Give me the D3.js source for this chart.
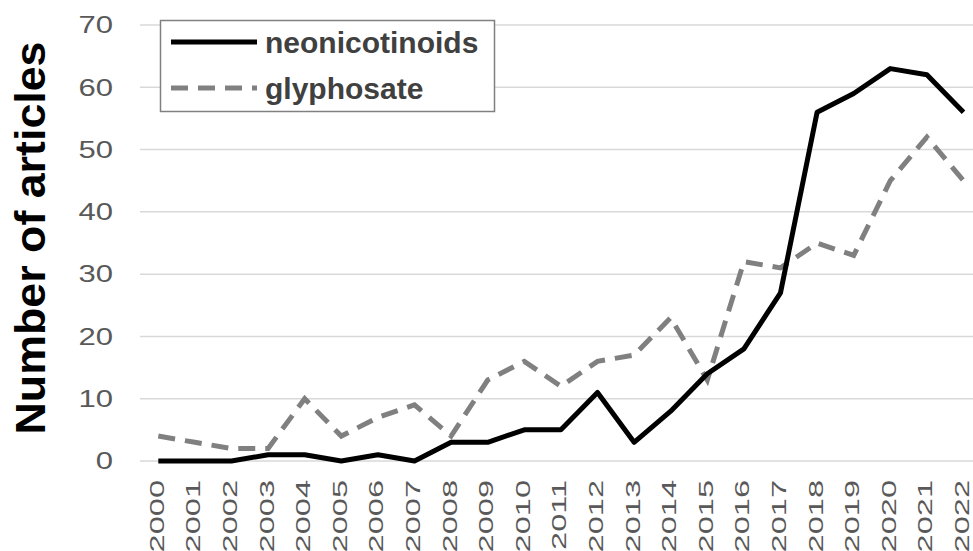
<!DOCTYPE html>
<html>
<head>
<meta charset="utf-8">
<script src="https://cdn.jsdelivr.net/npm/d3@7"></script>
<style>
	body { margin: 0; background: #fff; }
	svg { display: block; font-family: "Liberation Sans", Arial, sans-serif; }
</style>
</head>
<body>
<svg id="chart" width="973" height="551"></svg>
<script>
// Data
var years = ["2000", "2001", "2002", "2003", "2004", "2005", "2006", "2007", "2008", "2009", "2010",
	"2011", "2012", "2013", "2014", "2015", "2016", "2017", "2018", "2019", "2020", "2021", "2022"];
var neonicotinoids = [0, 0, 0, 1, 1, 0, 1, 0, 3, 3, 5, 5, 11, 3, 8, 14, 18, 27, 56, 59, 63, 62, 56];
var glyphosate = [4, 3, 2, 2, 10, 4, 7, 9, 4, 13, 16, 12, 16, 17, 23, 13, 32, 31, 35, 33, 45, 52, 45];
var yTicks = [0, 10, 20, 30, 40, 50, 60, 70];

var svg = d3.select("#chart");

var plotLeft = 140,
	plotRight = 140 + 23 * 36.6,
	plotTop = 25,
	plotBottom = 461;

var x = d3.scaleBand()
	.domain(years)
	.range([plotLeft, plotRight]);

var y = d3.scaleLinear()
	.domain([0, 70])
	.range([plotBottom, plotTop]);

// Gridlines
svg.append("g")
	.selectAll("line")
	.data(yTicks)
	.join("line")
	.attr("x1", plotLeft)
	.attr("x2", plotRight)
	.attr("y1", function (d) { return y(d); })
	.attr("y2", function (d) { return y(d); })
	.attr("stroke", "#d9d9d9")
	.attr("stroke-width", 1.5);

// Y tick labels (the source text is a bit wide, hence the scale)
svg.append("g")
	.selectAll("text")
	.data(yTicks)
	.join("text")
	.attr("transform", function (d) { return "translate(113," + y(d) + ") scale(1.35,1)"; })
	.attr("text-anchor", "end")
	.attr("dy", "0.36em")
	.attr("font-size", "23px")
	.attr("fill", "#595959")
	.text(function (d) { return d; });

// X tick labels
svg.append("g")
	.selectAll("text")
	.data(years)
	.join("text")
	.attr("transform", function (d) {
		return "translate(" + (x(d) + x.bandwidth() / 2 - 2) + ",480) rotate(-90) scale(1.55,1)";
	})
	.attr("text-anchor", "end")
	.attr("dy", "0.36em")
	.attr("font-size", "21px")
	.attr("fill", "#595959")
	.text(function (d) { return d; });

// Axis title
svg.append("text")
	.attr("transform", "translate(45,238) rotate(-90)")
	.attr("text-anchor", "middle")
	.attr("font-size", "42px")
	.attr("font-weight", "bold")
	.attr("fill", "#000")
	.attr("textLength", 393)
	.attr("lengthAdjust", "spacingAndGlyphs")
	.text("Number of articles");

// Lines
var line = d3.line()
	.x(function (d, i) { return x(years[i]) + x.bandwidth() / 2; })
	.y(function (d) { return y(d); });

svg.append("path")
	.datum(glyphosate)
	.attr("d", line)
	.attr("fill", "none")
	.attr("stroke", "#808080")
	.attr("stroke-width", 5)
	.attr("stroke-dasharray", "17,10");

svg.append("path")
	.datum(neonicotinoids)
	.attr("d", line)
	.attr("fill", "none")
	.attr("stroke", "#000")
	.attr("stroke-width", 5)
	.attr("stroke-linejoin", "round");

// Legend
var legend = svg.append("g");
legend.append("rect")
	.attr("x", 160.5)
	.attr("y", 20.5)
	.attr("width", 334)
	.attr("height", 91)
	.attr("fill", "#fff")
	.attr("stroke", "#808080")
	.attr("stroke-width", 1.5);

var legendItems = [
	{ name: "neonicotinoids", color: "#000", dash: null },
	{ name: "glyphosate", color: "#808080", dash: "17,10" }
];

legendItems.forEach(function (d, i) {
	var ly = 42 + i * 46;
	legend.append("line")
		.attr("x1", 171)
		.attr("x2", 257)
		.attr("y1", ly)
		.attr("y2", ly)
		.attr("stroke", d.color)
		.attr("stroke-width", 5)
		.attr("stroke-dasharray", d.dash);
	legend.append("text")
		.attr("x", 265)
		.attr("y", ly)
		.attr("dy", "0.35em")
		.attr("font-size", "30px")
		.attr("font-weight", "bold")
		.attr("fill", "#404040")
		.text(d.name);
});
</script>
</body>
</html>
